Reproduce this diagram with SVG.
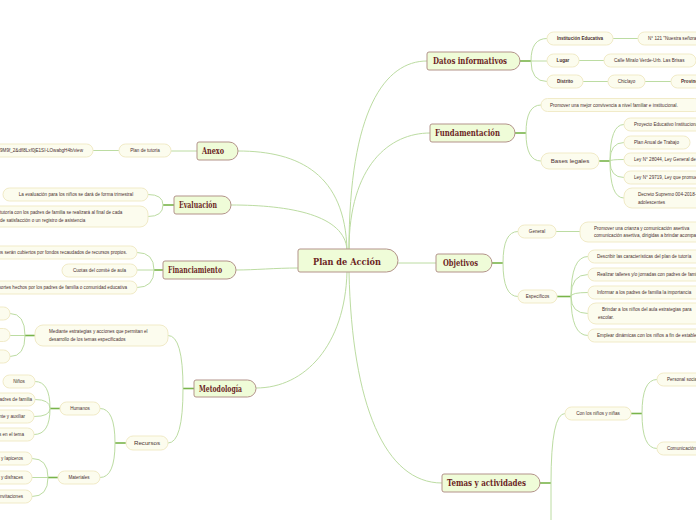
<svg xmlns="http://www.w3.org/2000/svg" width="696" height="520" viewBox="0 0 696 520">
<style>
.c{fill:none;stroke:#bcdca2;stroke-width:1}
.s{fill:none;stroke:#79b44a;stroke-width:1.6}
.m{fill:#effcd8;stroke:#b3938a;stroke-width:1}
.mt{font-family:"DejaVu Serif","Liberation Serif",serif;font-weight:bold;fill:#6b1f1f;font-size:9px}
.p{fill:#fcfcee;stroke:#f1ebc8;stroke-width:1}
.pt{font-family:"Liberation Sans",Arial,sans-serif;font-size:4.6px;fill:#4a3030}
.pb{font-weight:bold}
.pl{font-size:6.2px}
.mid{text-anchor:middle}
.end{text-anchor:end}
</style>
<rect width="696" height="520" fill="#ffffff"/>
<g id="connectors">
<path class="c" d="M349,250 C349,110 385,61 427,61"/>
<path class="c" d="M349,250 C349,165 390,133 430,133"/>
<path class="c" d="M347,250 C345,175 300,151 238,151"/>
<path class="c" d="M347,250 C345,215 290,205 231,205"/>
<path class="c" d="M398,263 H436"/>
<path class="c" d="M298,268 C275,268 255,270 236,270"/>
<path class="c" d="M347,272 C345,345 305,388 256,388"/>
<path class="c" d="M349,272 C352,405 385,483 442,483"/>
<!-- Datos -->
<path class="s" d="M520,61 H531"/>
<path class="c" d="M531,61 Q531,38.5 547,38.5 M531,61 H547 M531,61 Q531,81.5 547,81.5"/>
<path class="c" d="M613,38.5 H638 M579,60.5 H604 M583,81.5 H608 M645,81.5 H671"/>
<!-- Fundamentacion -->
<path class="s" d="M515,133 H526"/>
<path class="c" d="M526,133 Q526,105 541,105 M526,133 Q526,161 541,161"/>
<path class="s" d="M599,161 H610"/>
<path class="c" d="M610,161 Q610,124.5 624,124.5 M610,161 Q610,142.5 624,142.5 M610,161 Q610,159.5 624,159.5 M610,161 Q610,177.5 624,177.5 M610,161 Q610,198 624,198"/>
<!-- Objetivos -->
<path class="s" d="M492,263 H503"/>
<path class="c" d="M503,263 Q503,231.5 518,231.5 M503,263 Q503,296.5 518,296.5"/>
<path class="c" d="M556,231.5 H580"/>
<path class="s" d="M557,296.5 H571"/>
<path class="c" d="M571,296.5 Q571,256.5 588,256.5 M571,296.5 Q571,274.5 588,274.5 M571,296.5 Q571,292.5 588,292.5 M571,296.5 Q571,313.5 588,313.5 M571,296.5 Q571,335.5 588,335.5"/>
<!-- Temas -->
<path class="s" d="M540,483 H551"/>
<path class="c" d="M551,483 Q551,413.5 565,413.5 M551,483 V525"/>
<path class="s" d="M631,413.5 H642"/>
<path class="c" d="M642,413.5 Q642,379.5 657,379.5 M642,413.5 Q642,448.5 657,448.5"/>
<!-- Anexo -->
<path class="c" d="M197,151 H171 M119,150.5 H93"/>
<!-- Evaluacion -->
<path class="s" d="M174,205 H163"/>
<path class="c" d="M163,205 Q163,194.5 148,194.5 M163,205 Q163,216.5 148,216.5"/>
<!-- Financiamiento -->
<path class="s" d="M163,270 H154"/>
<path class="c" d="M154,270 Q154,252.5 137,252.5 M154,270 H137 M154,270 Q154,287.5 137,287.5"/>
<!-- Metodologia -->
<path class="s" d="M194,388.5 H183"/>
<path class="c" d="M183,388.5 Q183,335.5 168,335.5 M183,388.5 Q183,443 168,443"/>
<path class="s" d="M35,335.5 H25"/>
<path class="c" d="M25,335.5 Q25,313.5 10,313.5 M25,335.5 H10 M25,335.5 Q25,356.5 10,356.5"/>
<path class="s" d="M126,443 H115"/>
<path class="c" d="M115,443 Q115,408.5 100,408.5 M115,443 Q115,477.5 100,477.5"/>
<path class="s" d="M60,408.5 H50"/>
<path class="c" d="M50,408.5 Q50,381.5 35,381.5 M50,408.5 Q50,399.5 35,399.5 M50,408.5 Q50,416.5 34,416.5 M50,408.5 Q50,434.5 34,434.5"/>
<path class="s" d="M58,477.5 H48"/>
<path class="c" d="M48,477.5 Q48,458.5 32,458.5 M48,477.5 H32 M48,477.5 Q48,496.5 32,496.5"/>
</g>

<g id="center">
<path class="m" d="M300,249 H386.5 A11.5,11.5 0 0 1 398,260.5 A11.5,11.5 0 0 1 386.5,272 H300 Q298,272 298,270 V251 Q298,249 300,249 Z"/>
<text class="mt" x="313" y="264.5" font-size="11" textLength="68" lengthAdjust="spacingAndGlyphs">Plan de Acción</text>
</g>

<g id="datos">
<path class="m" d="M429,52 H511 A9,9 0 0 1 520,61 A9,9 0 0 1 511,70 H429 Q427,70 427,68 V54 Q427,52 429,52 Z"/>
<text class="mt" x="433" y="64.2" textLength="74" lengthAdjust="spacingAndGlyphs">Datos informativos</text>
</g>
<g id="institucion"><rect class="p" x="547" y="32" width="66" height="13" rx="6.5"/><text class="pt pb mid" x="580" y="40.2">Institución Educativa</text></g>
<g id="nro"><rect class="p" x="638" y="32" width="70" height="13" rx="6.5"/><text class="pt" x="648" y="40.2">N° 121 "Nuestra señora</text></g>
<g id="lugar"><rect class="p" x="547" y="54" width="32" height="13" rx="6.5"/><text class="pt pb mid" x="563" y="62.2">Lugar</text></g>
<g id="calle"><rect class="p" x="604" y="54" width="92" height="13" rx="6.5"/><text class="pt" x="614" y="62.2">Calle Miralo Verde-Urb. Las Brisas</text></g>
<g id="distrito"><rect class="p" x="547" y="75" width="36" height="13" rx="6.5"/><text class="pt pb mid" x="565" y="83.2">Distrito</text></g>
<g id="chiclayo"><rect class="p" x="608" y="75" width="37" height="13" rx="6.5"/><text class="pt mid" x="626.5" y="83.2">Chiclayo</text></g>
<g id="provincia"><rect class="p" x="671" y="75" width="40" height="13" rx="6.5"/><text class="pt pb" x="681" y="83.2">Provincia</text></g>

<g id="fundamentacion">
<path class="m" d="M432,124 H506 A9,9 0 0 1 515,133 A9,9 0 0 1 506,142 H432 Q430,142 430,140 V126 Q430,124 432,124 Z"/>
<text class="mt" x="435" y="136.2" textLength="65" lengthAdjust="spacingAndGlyphs">Fundamentación</text>
</g>
<g id="promover1"><rect class="p" x="541" y="98.5" width="160" height="13" rx="6.5"/><text class="pt" x="550" y="106.7">Promover una mejor convivencia a nivel familiar e institucional.</text></g>
<g id="bases"><rect class="p" x="541" y="153" width="58" height="16" rx="8"/><text class="pt pl mid" x="570" y="163.2">Bases legales</text></g>
<g id="pei"><rect class="p" x="624" y="118" width="80" height="13" rx="6.5"/><text class="pt" x="634" y="126.2">Proyecto Educativo Institucional</text></g>
<g id="pat"><rect class="p" x="624" y="136" width="66" height="13" rx="6.5"/><text class="pt" x="634" y="144.2">Plan Anual de Trabajo</text></g>
<g id="ley1"><rect class="p" x="624" y="153" width="80" height="13" rx="6.5"/><text class="pt" x="634" y="161.2">Ley N° 28044, Ley General de Educación</text></g>
<g id="ley2"><rect class="p" x="624" y="171" width="80" height="13" rx="6.5"/><text class="pt" x="634" y="179.2">Ley N° 29719, Ley que promueve</text></g>
<g id="decreto"><rect class="p" x="624" y="188" width="80" height="20" rx="8"/><text class="pt" x="638" y="196">Decreto Supremo 004-2018-MINEDU</text><text class="pt" x="638" y="203.5">adolescentes</text></g>

<g id="objetivos">
<path class="m" d="M438,254 H483 A9,9 0 0 1 492,263 A9,9 0 0 1 483,272 H438 Q436,272 436,270 V256 Q436,254 438,254 Z"/>
<text class="mt" x="443" y="266.2" textLength="35" lengthAdjust="spacingAndGlyphs">Objetivos</text>
</g>
<g id="general"><rect class="p" x="518" y="225" width="38" height="13" rx="6.5"/><text class="pt mid" x="537" y="233.2">General</text></g>
<g id="generaltxt"><rect class="p" x="580" y="222" width="124" height="20" rx="8"/><text class="pt" x="594" y="229.8">Promover una crianza y comunicación asertiva</text><text class="pt" x="594" y="237.3">comunicación asertiva, dirigidas a brindar acompañamiento</text></g>
<g id="especificos"><rect class="p" x="518" y="290" width="39" height="13" rx="6.5"/><text class="pt mid" x="537.5" y="298.2">Específicos</text></g>
<g id="esp1"><rect class="p" x="588" y="250" width="116" height="13" rx="6.5"/><text class="pt" x="597" y="258.2">Describir las características del plan de tutoría</text></g>
<g id="esp2"><rect class="p" x="588" y="268" width="116" height="13" rx="6.5"/><text class="pt" x="597" y="276.2">Realizar talleres y/o jornadas con padres de familia</text></g>
<g id="esp3"><rect class="p" x="588" y="286" width="116" height="13" rx="6.5"/><text class="pt" x="597" y="294.2">Informar a los padres de familia la importancia</text></g>
<g id="esp4"><rect class="p" x="588" y="303" width="116" height="21" rx="8"/><text class="pt" x="602" y="311">Brindar a los niños del aula estrategias para</text><text class="pt" x="598" y="318.5">escolar.</text></g>
<g id="esp5"><rect class="p" x="588" y="329" width="116" height="13" rx="6.5"/><text class="pt" x="597" y="337.2">Emplear dinámicas con los niños a fin de establecer</text></g>

<g id="temas">
<path class="m" d="M444,474 H531 A9,9 0 0 1 540,483 A9,9 0 0 1 531,492 H444 Q442,492 442,490 V476 Q442,474 444,474 Z"/>
<text class="mt" x="447" y="486.2" textLength="79" lengthAdjust="spacingAndGlyphs">Temas y actividades</text>
</g>
<g id="conninos"><rect class="p" x="565" y="407" width="66" height="13" rx="6.5"/><text class="pt mid" x="598" y="415.2">Con los niños y niñas</text></g>
<g id="personal"><rect class="p" x="657" y="373" width="50" height="13" rx="6.5"/><text class="pt" x="667" y="381.2">Personal social</text></g>
<g id="comunicacion"><rect class="p" x="657" y="442" width="50" height="13" rx="6.5"/><text class="pt" x="667" y="450.2">Comunicación</text></g>

<g id="anexo">
<path class="m" d="M199,142 H229 A9,9 0 0 1 238,151 A9,9 0 0 1 229,160 H199 Q197,160 197,158 V144 Q197,142 199,142 Z"/>
<text class="mt" x="202" y="154.2" textLength="22" lengthAdjust="spacingAndGlyphs">Anexo</text>
</g>
<g id="plantutoria"><rect class="p" x="119" y="144" width="52" height="13" rx="6.5"/><text class="pt mid" x="145" y="152.2">Plan de tutoria</text></g>
<g id="url"><rect class="p" x="-80" y="144" width="173" height="13" rx="6.5"/><text class="pt end" x="83" y="152.2">https://drive.google.com/file/d/19M9f_2&amp;dfl8Lxf0jE1SI-LOwabgH4b/view</text></g>

<g id="evaluacion">
<path class="m" d="M176,196 H222 A9,9 0 0 1 231,205 A9,9 0 0 1 222,214 H176 Q174,214 174,212 V198 Q174,196 176,196 Z"/>
<text class="mt" x="179" y="208.2" textLength="38" lengthAdjust="spacingAndGlyphs">Evaluación</text>
</g>
<g id="eval1"><rect class="p" x="3" y="188" width="145" height="13" rx="6.5"/><text class="pt mid" x="76" y="196.2">La evaluación para los niños se dará de forma trimestral</text></g>
<g id="eval2"><rect class="p" x="-80" y="206" width="228" height="21" rx="8"/><text class="pt" x="0" y="214">tutoría con los padres de familia se realizará al final de cada</text><text class="pt" x="0" y="221.8">de satisfacción o un registro de asistencia</text></g>

<g id="financiamiento">
<path class="m" d="M165,261 H227 A9,9 0 0 1 236,270 A9,9 0 0 1 227,279 H165 Q163,279 163,277 V263 Q163,261 165,261 Z"/>
<text class="mt" x="168" y="273.2" textLength="54" lengthAdjust="spacingAndGlyphs">Financiamiento</text>
</g>
<g id="fin1"><rect class="p" x="-80" y="246" width="217" height="13" rx="6.5"/><text class="pt end" x="127" y="254.2">Los gastos serán cubiertos por fondos recaudados de recursos propios.</text></g>
<g id="fin2"><rect class="p" x="62" y="264" width="75" height="13" rx="6.5"/><text class="pt mid" x="99.5" y="272.2">Cuotas del comité de aula</text></g>
<g id="fin3"><rect class="p" x="-80" y="281" width="217" height="13" rx="6.5"/><text class="pt end" x="127" y="289.2">Aportes hechos por los padres de familia o comunidad educativa</text></g>

<g id="metodologia">
<path class="m" d="M196,380 H247.5 A8.5,8.5 0 0 1 256,388.5 A8.5,8.5 0 0 1 247.5,397 H196 Q194,397 194,395 V382 Q194,380 196,380 Z"/>
<text class="mt" x="199" y="391.7" textLength="43" lengthAdjust="spacingAndGlyphs">Metodología</text>
</g>
<g id="mediante"><rect class="p" x="35" y="325" width="133" height="21" rx="8"/><text class="pt" x="49" y="332.8">Mediante estrategias y acciones que permitan el</text><text class="pt" x="49" y="340.5">desarrollo de los temas especificados</text></g>
<g id="med1"><rect class="p" x="-40" y="307" width="50" height="13" rx="6.5"/></g>
<g id="med2"><rect class="p" x="-40" y="328.5" width="50" height="13" rx="6.5"/></g>
<g id="med3"><rect class="p" x="-40" y="350" width="50" height="13" rx="6.5"/></g>
<g id="recursos"><rect class="p" x="126" y="436" width="42" height="14" rx="7"/><text class="pt pl mid" x="147" y="445.2">Recursos</text></g>
<g id="humanos"><rect class="p" x="60" y="402" width="40" height="13" rx="6.5"/><text class="pt mid" x="80" y="410.2">Humanos</text></g>
<g id="materiales"><rect class="p" x="58" y="471" width="42" height="13" rx="6.5"/><text class="pt mid" x="79" y="479.2">Materiales</text></g>
<g id="ninos"><rect class="p" x="3" y="375" width="32" height="13" rx="6.5"/><text class="pt mid" x="19" y="383.2">Niños</text></g>
<g id="padres"><rect class="p" x="-40" y="393" width="75" height="13" rx="6.5"/><text class="pt end" x="32" y="401.2">Padres de familia</text></g>
<g id="docente"><rect class="p" x="-40" y="410" width="74" height="13" rx="6.5"/><text class="pt end" x="25" y="418.2">Docente y auxiliar</text></g>
<g id="especialistas"><rect class="p" x="-40" y="428" width="74" height="13" rx="6.5"/><text class="pt end" x="24" y="436.2">Especialistas en el tema</text></g>
<g id="papelotes"><rect class="p" x="-40" y="452" width="72" height="13" rx="6.5"/><text class="pt end" x="23" y="460.2">Papelotes y lapiceros</text></g>
<g id="vestuarios"><rect class="p" x="-40" y="471" width="72" height="13" rx="6.5"/><text class="pt end" x="23" y="479.2">Vestuarios y disfraces</text></g>
<g id="invitaciones"><rect class="p" x="-40" y="490" width="72" height="13" rx="6.5"/><text class="pt end" x="23" y="498.2">Tarjetas de invitaciones</text></g>
</svg>
